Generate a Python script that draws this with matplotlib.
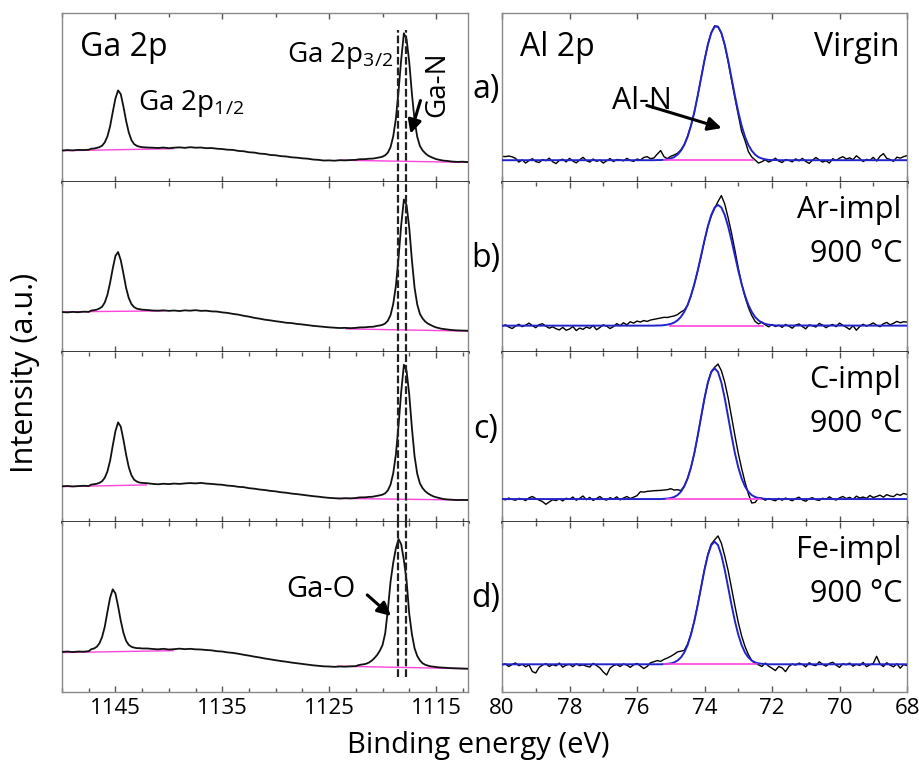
import numpy as np
import matplotlib
matplotlib.use('Agg')
import matplotlib.pyplot as plt
from matplotlib.ticker import FixedLocator, MultipleLocator

plt.rcParams['font.family'] = ['Open Sans', 'DejaVu Sans']
plt.rcParams['mathtext.fontset'] = 'custom'
plt.rcParams['mathtext.rm'] = 'Open Sans'
plt.rcParams['mathtext.it'] = 'Open Sans:italic'

# ---------------- Ga 2p (left column) ----------------
ga_energy = np.concatenate([np.linspace(1150, 1147.5, 6), np.linspace(1147.25, 1142.0, 22),
                            np.linspace(1141.5, 1122.5, 39), np.linspace(1122.25, 1114.0, 34),
                            np.linspace(1113.5, 1112.0, 4)])

ga_a = [0.186, 0.189, 0.187, 0.190, 0.189, 0.191,
        0.197, 0.198, 0.202, 0.206, 0.215, 0.234, 0.270, 0.329, 0.414, 0.494, 0.542, 0.520, 0.446, 0.362,
        0.293, 0.248, 0.224, 0.214, 0.209, 0.206, 0.205, 0.204,
        0.203, 0.201, 0.204, 0.200, 0.203, 0.205, 0.202, 0.206, 0.203, 0.204, 0.200, 0.201, 0.197, 0.195,
        0.191, 0.190, 0.184, 0.182, 0.176, 0.174, 0.168, 0.166, 0.160, 0.158, 0.153, 0.151, 0.146, 0.144,
        0.140, 0.138, 0.133, 0.131, 0.127, 0.128, 0.126, 0.129, 0.128, 0.130, 0.131,
        0.134, 0.135, 0.135, 0.136, 0.138, 0.138, 0.140, 0.143, 0.146, 0.150, 0.158, 0.174, 0.206, 0.270,
        0.374, 0.539, 0.726, 0.880, 0.845, 0.710, 0.522, 0.364, 0.267, 0.213, 0.187, 0.170, 0.157, 0.149,
        0.142, 0.136, 0.132, 0.129, 0.126, 0.125,
        0.121, 0.119, 0.120, 0.118]
ga_b = [0.235, 0.233, 0.236, 0.234, 0.237, 0.236,
        0.244, 0.246, 0.249, 0.256, 0.266, 0.291, 0.336, 0.407, 0.491, 0.565, 0.588, 0.540, 0.461, 0.377,
        0.317, 0.282, 0.264, 0.255, 0.252, 0.249, 0.248, 0.247,
        0.244, 0.243, 0.245, 0.242, 0.244, 0.241, 0.245, 0.243, 0.246, 0.242, 0.243, 0.239, 0.238, 0.233,
        0.230, 0.224, 0.220, 0.213, 0.208, 0.201, 0.196, 0.190, 0.186, 0.181, 0.177, 0.172, 0.170, 0.165,
        0.162, 0.158, 0.154, 0.151, 0.148, 0.145, 0.143, 0.141, 0.142, 0.140, 0.142,
        0.144, 0.145, 0.145, 0.146, 0.148, 0.148, 0.150, 0.154, 0.156, 0.160, 0.168, 0.184, 0.217, 0.282,
        0.389, 0.556, 0.748, 0.897, 0.864, 0.731, 0.540, 0.378, 0.279, 0.224, 0.197, 0.179, 0.167, 0.159,
        0.151, 0.145, 0.141, 0.137, 0.135, 0.133,
        0.129, 0.127, 0.126, 0.125]
ga_c = [0.210, 0.212, 0.209, 0.211, 0.213, 0.212,
        0.220, 0.222, 0.225, 0.230, 0.240, 0.260, 0.297, 0.360, 0.449, 0.534, 0.586, 0.561, 0.484, 0.396,
        0.322, 0.275, 0.249, 0.238, 0.232, 0.230, 0.229, 0.228,
        0.224, 0.222, 0.225, 0.223, 0.226, 0.224, 0.227, 0.229, 0.227, 0.230, 0.226, 0.224, 0.221, 0.219,
        0.214, 0.212, 0.207, 0.205, 0.199, 0.196, 0.191, 0.188, 0.183, 0.180, 0.175, 0.172, 0.167, 0.164,
        0.160, 0.156, 0.152, 0.149, 0.145, 0.142, 0.140, 0.138, 0.140, 0.139, 0.141,
        0.144, 0.145, 0.145, 0.146, 0.148, 0.148, 0.151, 0.154, 0.157, 0.161, 0.169, 0.186, 0.220, 0.286,
        0.397, 0.570, 0.767, 0.925, 0.889, 0.750, 0.553, 0.386, 0.283, 0.227, 0.199, 0.181, 0.168, 0.159,
        0.151, 0.146, 0.142, 0.138, 0.135, 0.133,
        0.131, 0.129, 0.130, 0.129]
ga_d = [0.236, 0.238, 0.235, 0.238, 0.237, 0.240,
        0.252, 0.256, 0.266, 0.286, 0.323, 0.383, 0.471, 0.554, 0.604, 0.580, 0.505, 0.419, 0.348, 0.301,
        0.277, 0.266, 0.261, 0.258, 0.258, 0.256, 0.256, 0.256,
        0.253, 0.251, 0.254, 0.250, 0.252, 0.255, 0.252, 0.254, 0.251, 0.250, 0.247, 0.245, 0.240, 0.238,
        0.233, 0.230, 0.225, 0.219, 0.214, 0.208, 0.203, 0.197, 0.192, 0.187, 0.182, 0.178, 0.173, 0.169,
        0.165, 0.161, 0.157, 0.154, 0.151, 0.150, 0.148, 0.150, 0.149, 0.151, 0.152,
        0.158, 0.161, 0.163, 0.167, 0.174, 0.185, 0.200, 0.218, 0.243, 0.276, 0.345, 0.485, 0.649, 0.760,
        0.845, 0.900, 0.868, 0.775, 0.655, 0.460, 0.340, 0.257, 0.212, 0.186, 0.169, 0.160, 0.155, 0.151,
        0.149, 0.147, 0.145, 0.144, 0.143, 0.142,
        0.140, 0.139, 0.138, 0.137]
ga_spectra = [ga_a, ga_b, ga_c, ga_d]

# magenta background segments: (E_start, E_end, I_start, I_end)
ga_bg_left = [(1150, 1139.6, 0.185, 0.197), (1150, 1140.4, 0.236, 0.242),
              (1150, 1142.1, 0.208, 0.218), (1150, 1139.6, 0.232, 0.243)]
ga_bg_right = [(1124.0, 1112, 0.129, 0.116), (1123.4, 1112, 0.136, 0.123),
               (1124.2, 1112, 0.139, 0.129), (1124.2, 1112, 0.152, 0.137)]
ga_dash_pos = [1118.55, 1117.8]

# ---------------- Al 2p (right column) ----------------
al_energy = np.linspace(80, 68, 121)
al_fit_energy = np.linspace(75.5, 71.8, 38)

al_raw_a = [0.152, 0.150, 0.154, 0.149, 0.140,
            0.118, 0.131, 0.112, 0.127, 0.138, 0.121, 0.115, 0.133, 0.126, 0.141,
            0.120, 0.109, 0.128, 0.135, 0.119, 0.140, 0.124, 0.113, 0.131, 0.146,
            0.127, 0.118, 0.136, 0.122, 0.130, 0.112, 0.125, 0.139, 0.121, 0.133,
            0.131, 0.125, 0.140, 0.128, 0.122, 0.136, 0.130, 0.145, 0.150, 0.138,
            0.142, 0.165, 0.186, 0.150, 0.138, 0.152, 0.160, 0.170, 0.190, 0.222,
            0.272, 0.335, 0.414, 0.512, 0.618, 0.722, 0.815, 0.885, 0.924, 0.920,
            0.880, 0.808, 0.712, 0.604, 0.498, 0.398, 0.300, 0.245, 0.180, 0.148,
            0.130, 0.112, 0.120, 0.131, 0.118, 0.127, 0.141, 0.124,
            0.115, 0.133, 0.128, 0.119, 0.137, 0.125, 0.140, 0.122, 0.110, 0.129,
            0.145, 0.131, 0.118, 0.126, 0.112, 0.138, 0.127, 0.141, 0.150, 0.136,
            0.143, 0.132, 0.155, 0.139, 0.121, 0.134, 0.128, 0.146, 0.124, 0.152,
            0.168, 0.140, 0.133, 0.122, 0.147, 0.141, 0.150, 0.156]
al_raw_b = [0.150, 0.160, 0.147, 0.138, 0.152, 0.163, 0.149, 0.158, 0.170, 0.155,
            0.143, 0.161, 0.166, 0.152, 0.140, 0.148, 0.137, 0.130, 0.145, 0.128,
            0.135, 0.150, 0.126, 0.141, 0.133, 0.147, 0.139, 0.156, 0.131, 0.144,
            0.160, 0.152, 0.138, 0.149, 0.167, 0.155, 0.172, 0.160, 0.178, 0.170,
            0.182, 0.176, 0.185, 0.180, 0.188,
            0.192, 0.196, 0.200, 0.204, 0.203, 0.208, 0.212, 0.220, 0.235, 0.247,
            0.275, 0.332, 0.400, 0.478, 0.565, 0.655, 0.740, 0.800, 0.845, 0.885,
            0.920, 0.870, 0.790, 0.700, 0.600, 0.495, 0.400, 0.325, 0.262, 0.215,
            0.180, 0.165, 0.176, 0.160, 0.148, 0.162, 0.150, 0.158,
            0.145, 0.162, 0.152, 0.140, 0.158, 0.165, 0.150, 0.136, 0.160, 0.154,
            0.147, 0.168, 0.158, 0.143, 0.155, 0.162, 0.149, 0.170, 0.157, 0.146,
            0.133, 0.155, 0.128, 0.150, 0.163, 0.152, 0.160, 0.171, 0.158, 0.149,
            0.166, 0.174, 0.160, 0.169, 0.180, 0.172, 0.178, 0.176]
al_raw_c = [0.137, 0.130, 0.141, 0.133, 0.128, 0.139, 0.135, 0.126, 0.142, 0.150,
            0.138, 0.129, 0.120, 0.104, 0.118, 0.131, 0.126, 0.136, 0.124, 0.140,
            0.133, 0.147, 0.128, 0.139, 0.153, 0.131, 0.145, 0.127, 0.138, 0.150,
            0.134, 0.129, 0.143, 0.135, 0.148, 0.130, 0.141, 0.150, 0.138, 0.146,
            0.155, 0.178, 0.176, 0.180, 0.182,
            0.184, 0.185, 0.186, 0.188, 0.190, 0.196, 0.188, 0.190, 0.185, 0.212,
            0.258, 0.322, 0.405, 0.508, 0.618, 0.727, 0.822, 0.885, 0.910, 0.929,
            0.890, 0.822, 0.730, 0.620, 0.510, 0.405, 0.315, 0.235, 0.165, 0.112,
            0.115, 0.142, 0.140, 0.128, 0.138, 0.131, 0.125, 0.139,
            0.128, 0.141, 0.133, 0.125, 0.138, 0.146, 0.130, 0.122, 0.137, 0.143,
            0.131, 0.127, 0.140, 0.134, 0.148, 0.136, 0.129, 0.142, 0.150, 0.138,
            0.145, 0.133, 0.152, 0.141, 0.147, 0.139, 0.156, 0.144, 0.150, 0.158,
            0.146, 0.161, 0.153, 0.149, 0.164, 0.157, 0.168, 0.162]
al_raw_d = [0.158, 0.166, 0.150, 0.162, 0.171, 0.155, 0.163, 0.148, 0.160, 0.120,
            0.112, 0.145, 0.158, 0.167, 0.150, 0.161, 0.154, 0.170, 0.146, 0.158,
            0.163, 0.149, 0.166, 0.155, 0.160, 0.152, 0.147, 0.168, 0.156, 0.142,
            0.118, 0.100, 0.140, 0.155, 0.162, 0.150, 0.165, 0.158, 0.145, 0.160,
            0.168, 0.153, 0.138, 0.150, 0.172,
            0.178, 0.185, 0.180, 0.192, 0.200, 0.210, 0.222, 0.236, 0.240, 0.245,
            0.282, 0.342, 0.420, 0.515, 0.618, 0.722, 0.810, 0.870, 0.895, 0.918,
            0.875, 0.800, 0.715, 0.612, 0.508, 0.410, 0.330, 0.268, 0.220, 0.185,
            0.168, 0.160, 0.150, 0.170, 0.152, 0.140, 0.126, 0.150,
            0.142, 0.120, 0.150, 0.165, 0.158, 0.170, 0.162, 0.148, 0.172, 0.160,
            0.155, 0.178, 0.163, 0.152, 0.168, 0.175, 0.158, 0.145, 0.166, 0.160,
            0.170, 0.152, 0.163, 0.156, 0.174, 0.149, 0.160, 0.168, 0.210, 0.165,
            0.150, 0.172, 0.158, 0.148, 0.166, 0.140, 0.162, 0.155]
al_raw = [al_raw_a, al_raw_b, al_raw_c, al_raw_d]

al_fit_a = [0.129, 0.130, 0.130, 0.131, 0.134, 0.139, 0.147, 0.162, 0.185, 0.219,
            0.268, 0.333, 0.415, 0.512, 0.616, 0.720, 0.813, 0.882, 0.919, 0.919,
            0.882, 0.813, 0.720, 0.616, 0.512, 0.415, 0.333, 0.268, 0.219, 0.185,
            0.162, 0.147, 0.139, 0.134, 0.131, 0.130, 0.130, 0.129]
al_fit_b = [0.155, 0.156, 0.156, 0.158, 0.161, 0.165, 0.173, 0.186, 0.206, 0.236,
            0.277, 0.332, 0.400, 0.480, 0.568, 0.657, 0.739, 0.806, 0.850, 0.865,
            0.850, 0.806, 0.739, 0.657, 0.568, 0.480, 0.400, 0.332, 0.277, 0.236,
            0.206, 0.186, 0.173, 0.165, 0.161, 0.158, 0.156, 0.156]
al_fit_c = [0.135, 0.135, 0.135, 0.136, 0.138, 0.141, 0.147, 0.158, 0.178, 0.209,
            0.256, 0.322, 0.406, 0.509, 0.619, 0.728, 0.820, 0.882, 0.904, 0.882,
            0.820, 0.728, 0.619, 0.509, 0.406, 0.322, 0.256, 0.209, 0.178, 0.158,
            0.147, 0.141, 0.138, 0.136, 0.135, 0.135, 0.135, 0.135]
al_fit_d = [0.163, 0.163, 0.163, 0.164, 0.166, 0.168, 0.174, 0.185, 0.203, 0.232,
            0.276, 0.338, 0.418, 0.513, 0.617, 0.719, 0.805, 0.864, 0.884, 0.864,
            0.805, 0.719, 0.617, 0.513, 0.418, 0.338, 0.276, 0.232, 0.203, 0.185,
            0.174, 0.168, 0.166, 0.164, 0.163, 0.163, 0.163, 0.163]
al_fit = [al_fit_a, al_fit_b, al_fit_c, al_fit_d]
al_base = [0.129, 0.155, 0.135, 0.163]
al_bg_span = [(75.2, 72.55), (75.02, 72.27), (75.1, 72.36), (75.2, 72.45)]

panel_letters = ['a)', 'b)', 'c)', 'd)']
sample_names = [['Virgin'], ['Ar-impl', '900 °C'], ['C-impl', '900 °C'], ['Fe-impl', '900 °C']]
ga_ticks = [1145, 1135, 1125, 1115]
al_ticks = [80, 78, 76, 74, 72, 70, 68]

# ---------------- figure ----------------
W, H = 919, 761
fig = plt.figure(figsize=(W / 100, H / 100), dpi=100)
row_edges = [13, 182, 352, 522, 692]
frame_gray = '#8a8a8a'
magenta = '#ff44dd'
blue = '#2323cc'
arrow_kw = dict(arrowstyle='-|>', color='black', lw=2.2, mutation_scale=20,
                shrinkA=0, shrinkB=0)


def rect(x0, x1, y0, y1):
    return [x0 / W, 1 - y1 / H, (x1 - x0) / W, (y1 - y0) / H]


def style_axes(ax, i, minor_step):
    ax.set_ylim(0, 1)
    ax.set_yticks([])
    for side in ['left', 'right', 'top', 'bottom']:
        ax.spines[side].set_color(frame_gray)
        ax.spines[side].set_linewidth(1.0)
    if i > 0:
        ax.spines['top'].set_visible(False)
    if i < 3:
        ax.spines['bottom'].set_color('black')
        ax.spines['bottom'].set_linewidth(1.8)
    if minor_step:
        ax.xaxis.set_minor_locator(MultipleLocator(minor_step))
    ax.tick_params(axis='x', which='both', direction='in', top=True, bottom=True,
                   labelbottom=(i == 3), colors='black', labelsize=16, pad=4)
    ax.tick_params(axis='x', which='major', length=4, width=1, color='#555555')
    ax.tick_params(axis='x', which='minor', length=3, width=1, color='#555555')


ga_minor = [5, 5, 2.5, 2.5]
al_minor = [None, 1, 1, 1]

for i in range(4):
    y0, y1 = row_edges[i], row_edges[i + 1]

    # Ga 2p
    ax = fig.add_axes(rect(62, 468, y0, y1))
    ax.set_xlim(1150, 1112)
    ax.xaxis.set_major_locator(FixedLocator(ga_ticks))
    style_axes(ax, i, ga_minor[i])
    e0, e1, v0, v1 = ga_bg_left[i]
    ax.plot([e0, e1], [v0, v1], color=magenta, lw=1.0, zorder=2)
    e0, e1, v0, v1 = ga_bg_right[i]
    ax.plot([e0, e1], [v0, v1], color=magenta, lw=1.0, zorder=2)
    ax.plot(ga_energy, ga_spectra[i], color='#111111', lw=1.3, zorder=3)
    lo = 0.09 if i == 3 else 0.0
    hi = 0.9 if i == 0 else 1.0
    for xd in ga_dash_pos:
        ax.axvline(xd, ymin=lo, ymax=hi, color='#222222', lw=1.6,
                   linestyle=(0, (3.5, 1.3)), zorder=4)

    if i == 0:
        ax.text(0.044, 0.747, 'Ga 2p', transform=ax.transAxes, fontsize=23)
        ax.text(0.188, 0.424, r'Ga 2p$_{\mathrm{1/2}}$', transform=ax.transAxes, fontsize=20)
        ax.text(0.816, 0.712, r'Ga 2p$_{\mathrm{3/2}}$', transform=ax.transAxes,
                fontsize=20, ha='right')
        ax.text(1114.9, 0.576, 'Ga-N', rotation=90, fontsize=20, ha='center', va='center')
        ax.annotate('', xy=(1117.38, 0.286), xytext=(1116.45, 0.482), arrowprops=arrow_kw)
    if i == 3:
        ax.text(1125.8, 0.561, 'Ga-O', fontsize=21, ha='center')
        ax.annotate('', xy=(1119.2, 0.447), xytext=(1121.43, 0.571), arrowprops=arrow_kw)

    # Al 2p
    ax2 = fig.add_axes(rect(502, 907, y0, y1))
    ax2.set_xlim(80, 68)
    ax2.xaxis.set_major_locator(FixedLocator(al_ticks))
    style_axes(ax2, i, al_minor[i])
    base = al_base[i]
    fit_x = np.concatenate([[80.0], al_fit_energy, [68.0]])
    fit_y = np.concatenate([[base], al_fit[i], [base]])
    ax2.plot(al_energy, al_raw[i], color='black', lw=1.0, zorder=2)
    ax2.plot(fit_x, fit_y, color=blue, lw=1.4, zorder=3)
    ax2.plot(al_bg_span[i], [base, base], color=magenta, lw=1.2, zorder=4)

    names = sample_names[i]
    if len(names) == 1:
        ax2.text(0.981, 0.747, names[0], transform=ax2.transAxes, fontsize=23, ha='right')
    else:
        ax2.text(0.985, 0.79, names[0], transform=ax2.transAxes, fontsize=22, ha='right')
        ax2.text(0.989, 0.527, names[1], transform=ax2.transAxes, fontsize=22, ha='right')
    if i == 0:
        ax2.text(0.044, 0.747, 'Al 2p', transform=ax2.transAxes, fontsize=23)
        ax2.text(76.75, 0.434, 'Al-N', fontsize=22)
        ax2.annotate('', xy=(73.49, 0.319), xytext=(75.71, 0.453), arrowprops=arrow_kw)

    fig.text(486 / W, 1 - ((y0 + y1) / 2 - 8) / H, panel_letters[i], fontsize=23,
             ha='center', va='center')

fig.text(478 / W, 1 - 745 / H, 'Binding energy (eV)', fontsize=21, ha='center', va='center')
fig.text(25 / W, 1 - 373 / H, 'Intensity (a.u.)', fontsize=22, rotation=90,
         ha='center', va='center')

fig.savefig('out.png', dpi=100)
